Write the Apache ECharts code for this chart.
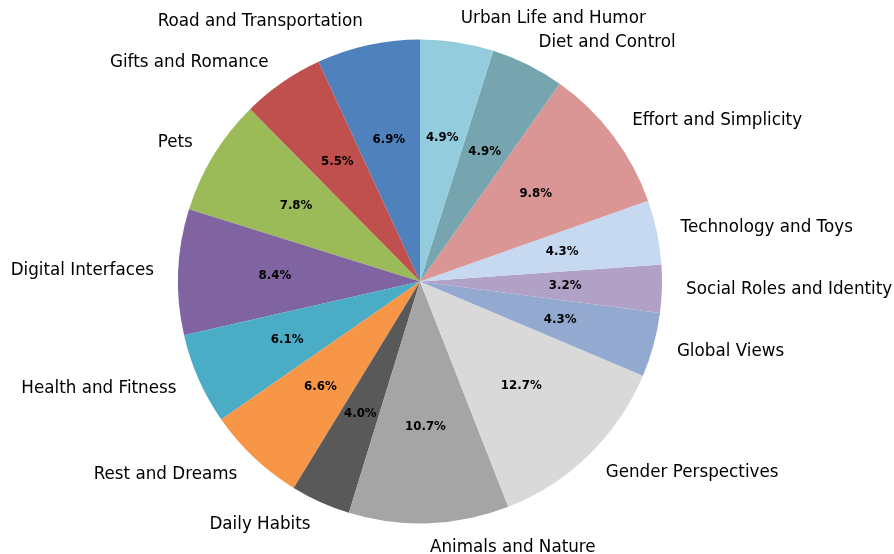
<!DOCTYPE html>
<html>
<head>
<meta charset="utf-8">
<script src="https://cdn.jsdelivr.net/npm/echarts@6/dist/echarts.min.js"></script>
<style>
html,body{margin:0;padding:0;background:#fff;}
#chart{width:894px;height:554px;}
</style>
</head>
<body>
<div id="chart"></div>
<script>
const categories = [
  "Road and Transportation", "Gifts and Romance", "Pets", "Digital Interfaces",
  "Health and Fitness", "Rest and Dreams", "Daily Habits", "Animals and Nature",
  "Gender Perspectives", "Global Views", "Social Roles and Identity",
  "Technology and Toys", "Effort and Simplicity", "Diet and Control", "Urban Life and Humor"
];
const values = [6.9, 5.5, 7.8, 8.4, 6.1, 6.6, 4.0, 10.7, 12.7, 4.3, 3.2, 4.3, 9.8, 4.9, 4.9];
const colors = [
  "#4f81bd", "#c0504d", "#9bbb59", "#8064a2", "#4bacc6", "#f79646", "#595959", "#a5a5a5",
  "#d9d9d9", "#94a9d0", "#b1a1c7", "#c6d9f1", "#d99694", "#76a5af", "#93cddd"
];

const R = 242;
const cx = 420, cy = 281.5;

const data = categories.map((n, i) => ({ name: n, value: values[i], itemStyle: { color: colors[i] } }));
const dataPct = categories.map((n, i) => ({ name: n, value: values[i] }));

const chart = echarts.init(document.getElementById('chart'), null, { renderer: 'canvas' });
chart.setOption({
  animation: false,
  backgroundColor: '#ffffff',
  series: [
    {
      type: 'pie',
      center: [cx, cy],
      radius: [0, R],
      startAngle: 90,
      clockwise: false,
      avoidLabelOverlap: false,
      silent: true,
      itemStyle: { borderWidth: 0 },
      emphasis: { disabled: true },
      label: {
        show: true,
        position: 'outside',
        formatter: '{b}',
        color: '#000000',
        fontFamily: 'DejaVu Sans',
        fontSize: 16.75,
        distanceToLabelLine: 0
      },
      labelLine: { show: false, length: R * 0.1, length2: 0 },
      data: data
    },
    {
      type: 'pie',
      center: [cx, cy],
      radius: [0, 2 * (R * 0.6 - 3)],
      startAngle: 90,
      clockwise: false,
      avoidLabelOverlap: false,
      silent: true,
      z: 3,
      itemStyle: { color: 'rgba(0,0,0,0)', borderWidth: 0 },
      emphasis: { disabled: true },
      label: {
        show: true,
        position: 'inside',
        formatter: p => p.value.toFixed(1) + '%',
        color: '#000000',
        fontFamily: 'DejaVu Sans',
        fontWeight: 'bold',
        fontSize: 11.8
      },
      labelLine: { show: false },
      data: dataPct
    }
  ]
});
</script>
</body>
</html>
